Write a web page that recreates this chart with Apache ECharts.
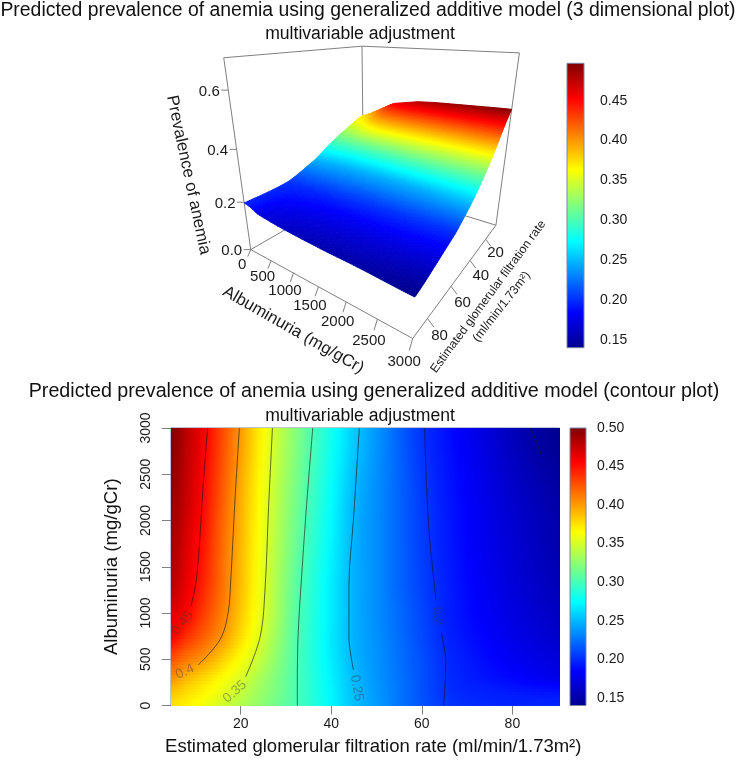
<!DOCTYPE html>
<html><head><meta charset="utf-8">
<style>html,body{margin:0;padding:0;background:#fff}#c{width:750px;height:760px}</style>
<script src="https://cdn.jsdelivr.net/npm/echarts@6/dist/echarts.min.js"></script>
</head><body><div id="c"></div>
<script>
// ---------- data ----------
const egfrValues = [4.6, 8, 12, 16, 20, 24, 28, 32, 36, 40, 45, 50, 55, 60, 65, 70, 75, 80, 85, 90.4];
const acrValues = [0, 150, 300, 500, 750, 1000, 1300, 1700, 2200, 3000];
const prevAcr0    = [.373,.367,.358,.347,.336,.325,.313,.301,.287,.272,.252,.239,.226,.214,.204,.200,.198,.197,.197,.197];
const prevAcr150  = [.385,.376,.366,.355,.343,.329,.316,.302,.286,.271,.251,.238,.226,.213,.202,.197,.195,.193,.191,.190];
const prevAcr300  = [.402,.389,.376,.363,.350,.334,.318,.302,.286,.270,.250,.237,.225,.213,.201,.195,.190,.186,.181,.176];
const prevAcr500  = [.425,.412,.398,.380,.362,.344,.323,.303,.285,.268,.248,.236,.224,.212,.200,.193,.186,.180,.175,.170];
const prevAcr750  = [.453,.437,.418,.399,.375,.352,.328,.304,.285,.267,.247,.235,.223,.210,.198,.190,.183,.176,.170,.164];
const prevAcr1000 = [.465,.453,.430,.407,.382,.357,.332,.306,.286,.268,.247,.234,.222,.209,.197,.188,.180,.173,.166,.160];
const prevAcr1300 = [.478,.460,.438,.412,.386,.359,.333,.308,.287,.268,.247,.234,.220,.207,.196,.187,.178,.170,.163,.156];
const prevAcr1700 = [.485,.465,.443,.414,.388,.361,.336,.312,.290,.271,.247,.234,.220,.206,.195,.185,.176,.168,.160,.152];
const prevAcr2200 = [.490,.472,.448,.419,.391,.364,.339,.316,.294,.274,.249,.234,.220,.205,.194,.184,.174,.165,.157,.149];
const prevAcr3000 = [.497,.477,.454,.426,.398,.370,.344,.322,.300,.280,.256,.237,.219,.202,.191,.180,.169,.158,.148,.140];
const prevalence = [prevAcr0,prevAcr150,prevAcr300,prevAcr500,prevAcr750,prevAcr1000,prevAcr1300,prevAcr1700,prevAcr2200,prevAcr3000];

const contour045  = [[12.7,3000],[11.7,2376],[10.3,1398],[9.0,1072]];
const contour040  = [[19.7,3000],[18.7,2198],[17.8,1362],[17.2,1000],[15.4,710],[10.6,438]];
const contour035  = [[27.0,3000],[26.1,2090],[25.4,1289],[24.3,746],[21.1,311]];
const contour030  = [[35.9,3000],[33.8,1652],[32.5,384],[32.5,0]];
const contour025  = [[46.2,3000],[44.9,2014],[43.9,1289],[43.9,746],[44.9,384]];
const contour020a = [[60.6,3000],[61.4,2014],[63.1,1145]];
const contour020b = [[64.3,785],[65.3,460],[64.8,0]];
const contour015  = [[83.9,3000],[85,2890],[86.5,2690]];
const contourLines = [contour045,contour040,contour035,contour030,contour025,contour020a,contour020b,contour015];
const contourLabelText = ['0.45','0.4','0.35','0.25','0.2'];
const contourLabelAt   = [[7.2,891],[7.7,365],[18.7,148],[45.6,188],[63.5,963]];

const acrTicks3d = [0,500,1000,1500,2000,2500,3000];
const egfrTicks3d = [20,40,60,80];
const zTicks3d = [0,0.2,0.4,0.6];
const egfrTicks = [20,40,60,80];
const colorTicksTop = [0.15,0.20,0.25,0.30,0.35,0.40,0.45];
const colorTicksBottom = [0.15,0.20,0.25,0.30,0.35,0.40,0.45,0.50];
const Z_MIN = 0.14, Z_MAX = 0.497, Z_TOP3D = 0.7, E_MIN = 4.6, E_MAX = 90.4, A_MAX = 3000;

// ---------- camera calibration of the 3D box: [acr, egfr, z] -> screen ----------
const anchorWorld = [[0,90.4,0],[3000,90.4,0],[3000,4.6,0],[0,4.6,0],[0,90.4,.7],[0,4.6,.7],[3000,4.6,.7],
  [500,90.4,0],[1000,90.4,0],[1500,90.4,0],[2000,90.4,0],[2500,90.4,0],
  [3000,20,0],[3000,40,0],[3000,60,0],[3000,80,0],[0,90.4,.2],[0,90.4,.4],[0,90.4,.6]];
const anchorScreen = [[251,250],[412.5,337.5],[496,225],[362.7,184],[223.3,57.3],[362.7,46.7],[519,52.7],
  [271,261],[294.3,273.3],[318.3,286.7],[346,301.7],[377.3,319],
  [486,239.3],[471,260.7],[450.7,287.3],[426.7,318.3],[244.3,202.3],[236.7,149.3],[228,90]];
function norm3(w){return [w[0]/A_MAX,(w[1]-E_MIN)/(E_MAX-E_MIN),w[2]/Z_TOP3D];}
function solveCamera(){
  const n=11, A=[...Array(n)].map(()=>Array(n+1).fill(0));
  function add(row,rhs){for(let i=0;i<n;i++){for(let j=0;j<n;j++)A[i][j]+=row[i]*row[j];A[i][n]+=row[i]*rhs;}}
  anchorWorld.forEach((w,k)=>{const [a,b,c]=norm3(w),X=anchorScreen[k][0]/500,Y=anchorScreen[k][1]/500;
    add([a,b,c,1,0,0,0,0,-X*a,-X*b,-X*c],X);
    add([0,0,0,0,a,b,c,1,-Y*a,-Y*b,-Y*c],Y);});
  for(let i=0;i<n;i++){let m=i;for(let r=i+1;r<n;r++)if(Math.abs(A[r][i])>Math.abs(A[m][i]))m=r;
    [A[i],A[m]]=[A[m],A[i]];
    for(let r=0;r<n;r++){if(r===i)continue;const f=A[r][i]/A[i][i];for(let c=i;c<=n;c++)A[r][c]-=f*A[i][c];}}
  return A.map((r,i)=>r[n]/r[i]);
}
const cam = solveCamera();
function project(acr,egfr,z){
  const [a,b,c]=norm3([acr,egfr,z]);
  const w=cam[8]*a+cam[9]*b+cam[10]*c+1;
  return [500*(cam[0]*a+cam[1]*b+cam[2]*c+cam[3])/w,500*(cam[4]*a+cam[5]*b+cam[6]*c+cam[7])/w];
}

// ---------- colour scale ----------
const jetStops=[[0,[0,0,143]],[.125,[0,0,255]],[.375,[0,255,255]],[.625,[255,255,0]],[.875,[255,0,0]],[1,[128,0,0]]];
function jet(z){
  const t=Math.max(0,Math.min(1,(z-Z_MIN)/(Z_MAX-Z_MIN)));
  for(let i=1;i<jetStops.length;i++){ if(t<=jetStops[i][0]){
    const f=(t-jetStops[i-1][0])/(jetStops[i][0]-jetStops[i-1][0]);
    const c=jetStops[i-1][1].map((v,k)=>Math.round(v+(jetStops[i][1][k]-v)*f));
    return 'rgb('+c.join(',')+')';}}
  return 'rgb(128,0,0)';
}
const FONT='"Liberation Sans", Helvetica, Arial, sans-serif';
const AXC='#808080', TXT='#1a1a1a';
const lerp=(a,b,t)=>a+(b-a)*t;
const cells=[]; for(let c=0;c<egfrValues.length-1;c++)for(let r=0;r<acrValues.length-1;r++)cells.push([c,r]);

// smooth shading between the read grid values, used only while painting
function cr(p0,p1,p2,p3,t){return .5*((2*p1)+(p2-p0)*t+(2*p0-5*p1+4*p2-p3)*t*t+(3*p1-p0-3*p2+p3)*t*t*t);}
function smoothZ(c,u,r,v){
  const nc=egfrValues.length-1,nr=acrValues.length-1;
  const row=k=>{const R=prevalence[Math.max(0,Math.min(nr,k))];
    return cr(R[Math.max(0,c-1)],R[c],R[Math.min(nc,c+1)],R[Math.min(nc,c+2)],u);};
  return cr(row(r-1),row(r),row(r+1),row(r+2),v);
}
function renderHeat(params,api){
  const c=api.value(0),r=api.value(1);
  const p0=api.coord([egfrValues[c],acrValues[r]]),p1=api.coord([egfrValues[c+1],acrValues[r+1]]);
  const x0=Math.round(p0[0]),x1=Math.round(p1[0]),yB=Math.round(p0[1]),yT=Math.round(p1[1]);
  const N=Math.max(1,Math.round((yB-yT)/3)),kids=[];
  for(let i=0;i<N;i++){
    const yA=Math.round(lerp(yB,yT,i/N)),yC=Math.round(lerp(yB,yT,(i+1)/N)),t=(i+.5)/N;
    kids.push({type:'rect',shape:{x:x0,y:yC,width:x1-x0,height:yA-yC},style:{fill:{type:'linear',x:0,y:0,x2:1,y2:0,
      colorStops:[0,.33,.67,1].map(o=>({offset:o,color:jet(smoothZ(c,o,r,t))}))}},silent:true});
  }
  return {type:'group',children:kids};
}
function renderSurface(params,api){
  const c=api.value(0),r=api.value(1),kids=[];
  const SX=6,SY=Math.max(3,Math.ceil((acrValues[r+1]-acrValues[r])/60));
  const at=(u,v)=>{const z=smoothZ(c,u,r,v);
    return {z,p:api.coord(project(lerp(acrValues[r],acrValues[r+1],v),lerp(egfrValues[c],egfrValues[c+1],u),z))};};
  for(let i=0;i<SX;i++)for(let j=0;j<SY;j++){
    const q=[at(i/SX,j/SY),at((i+1)/SX,j/SY),at((i+1)/SX,(j+1)/SY),at(i/SX,(j+1)/SY)];
    const col=jet((q[0].z+q[1].z+q[2].z+q[3].z)/4);
    kids.push({type:'polygon',shape:{points:q.map(o=>o.p)},style:{fill:col,stroke:col,lineWidth:.9},silent:true});
  }
  return {type:'group',children:kids};
}
function seg(api,a,b,w){const p=api.coord(a),q=api.coord(b);
  return {type:'line',shape:{x1:p[0],y1:p[1],x2:q[0],y2:q[1]},style:{stroke:AXC,lineWidth:w||1},silent:true};}
function txt(api,at,s,size){const p=api.coord(at);
  return {type:'text',x:p[0],y:p[1],style:{text:s,fill:TXT,font:size+'px '+FONT,align:'center',verticalAlign:'middle'},silent:true};}
function renderBoxBack(params,api){
  const L0=project(0,E_MAX,0),F0=project(A_MAX,E_MAX,0),R0=project(A_MAX,E_MIN,0),B0=project(0,E_MIN,0);
  const Lt=project(0,E_MAX,Z_TOP3D),Rt=project(A_MAX,E_MIN,Z_TOP3D),Bt=project(0,E_MIN,Z_TOP3D);
  return {type:'group',children:[seg(api,L0,B0),seg(api,B0,R0),seg(api,L0,Lt),seg(api,B0,Bt),seg(api,R0,Rt),seg(api,Lt,Bt),seg(api,Bt,Rt),seg(api,L0,F0),seg(api,F0,R0)]};
}
function renderTicks3d(params,api){
  const k=[];
  acrTicks3d.forEach(v=>{const p=project(v,E_MAX,0),a=v/A_MAX;
    k.push(seg(api,p,[p[0]-3-.4*a,p[1]+7+5*a]));
    k.push(txt(api,[p[0]-8.5,p[1]+15+8*a],String(v),15));});
  egfrTicks3d.forEach(v=>{const p=project(A_MAX,v,0),b=(v-E_MIN)/(E_MAX-E_MIN);
    k.push(seg(api,p,[p[0]+4.7+2*b,p[1]+6.7+2.3*b]));
    k.push(txt(api,[p[0]+9.3+3.3*b,p[1]+12.5+6*b],String(v),15));});
  zTicks3d.forEach(v=>{const p=project(0,E_MAX,v);
    k.push(seg(api,p,[p[0]-7,p[1]]));
    k.push(txt(api,[p[0]-19,p[1]+1.5],v.toFixed(1),15));});
  return {type:'group',children:k};
}
function renderColorbar(params,api){
  const top=api.coord([1,api.value(1)]),bot=api.coord([0,api.value(0)]);
  const stops=jetStops.map(s=>({offset:1-s[0],color:'rgb('+s[1].join(',')+')'})).reverse();
  return {type:'rect',shape:{x:bot[0],y:top[1],width:top[0]-bot[0],height:bot[1]-top[1]},
    style:{fill:{type:'linear',x:0,y:0,x2:0,y2:1,colorStops:stops},stroke:'#7b86a0',lineWidth:1},silent:true};
}
const hiddenAxis=(o)=>Object.assign({type:'value',show:false},o);
const cbAxis=(idx,min,max,ticks,marg)=>({gridIndex:idx,type:'value',min,max,position:'right',scale:true,
  axisLine:{show:false},splitLine:{show:false},
  axisTick:{show:true,length:7,customValues:ticks,lineStyle:{color:AXC}},
  axisLabel:{customValues:ticks,formatter:v=>v.toFixed(2),margin:marg,fontSize:14,color:TXT,fontFamily:FONT}});
const ttl=(text,x,y,size)=>({text,left:x,top:y-size/2-1,textAlign:'center',padding:0,
  textStyle:{fontSize:size,fontWeight:'normal',color:'#111',fontFamily:FONT}});
const gText=(text,x,y,deg,size)=>({type:'text',x,y,rotation:deg*Math.PI/180,silent:true,
  style:{text,fill:TXT,font:size+'px '+FONT,align:'center',verticalAlign:'middle'}});

const option={
  animation:false,backgroundColor:'#fff',
  title:[
    ttl('Predicted prevalence of anemia using generalized additive model (3 dimensional plot)',368,12,19.4),
    ttl('multivariable adjustment',360,35,17.6),
    ttl('Predicted prevalence of anemia using generalized additive model (contour plot)',374,392,19.7),
    ttl('multivariable adjustment',360,417,17.6)
  ],
  grid:[
    {left:0,top:0,width:750,height:760},
    {left:171,top:428,width:388.5,height:277.5,show:true,borderColor:'#7b86a0',borderWidth:1},
    {left:570,top:428,width:16,height:277.5},
    {left:567,top:63.3,width:17,height:284.4}
  ],
  xAxis:[
    hiddenAxis({gridIndex:0,min:0,max:750}),
    {gridIndex:1,type:'value',min:E_MIN,max:E_MAX,splitLine:{show:false},
     axisLine:{show:true,lineStyle:{color:AXC}},
     axisTick:{show:true,length:9,customValues:egfrTicks,lineStyle:{color:AXC}},
     axisLabel:{customValues:egfrTicks,margin:12,fontSize:14,color:TXT,fontFamily:FONT},
     name:'Estimated glomerular filtration rate (ml/min/1.73m²)',nameLocation:'center',nameGap:32,
     nameTextStyle:{fontSize:18.5,color:'#111',fontFamily:FONT,padding:[0,0,0,16]}},
    hiddenAxis({gridIndex:2,min:0,max:1}),
    hiddenAxis({gridIndex:3,min:0,max:1})
  ],
  yAxis:[
    hiddenAxis({gridIndex:0,min:0,max:760,inverse:true}),
    {gridIndex:1,type:'value',min:0,max:A_MAX,interval:500,splitLine:{show:false},
     axisLine:{show:true,lineStyle:{color:AXC}},
     axisTick:{show:true,length:9,lineStyle:{color:AXC}},
     axisLabel:{rotate:90,margin:18,fontSize:14,color:TXT,fontFamily:FONT,align:'center',verticalAlign:'bottom',formatter:v=>String(v)},
     name:'Albuminuria (mg/gCr)',nameLocation:'center',nameGap:50,
     nameTextStyle:{fontSize:18.6,color:'#111',fontFamily:FONT}},
    cbAxis(2,Z_MIN,0.50,colorTicksBottom,11),
    cbAxis(3,Z_MIN,Z_MAX,colorTicksTop,16)
  ],
  graphic:[
    gText('Prevalence of anemia',188.3,175,-78,16.8),
    gText('Albuminuria (mg/gCr)',293.3,330,-29.7,16.8),
    gText('Estimated glomerular filtration rate',488.3,296.7,53.7,12.2),
    gText('(ml/min/1.73m²)',501.7,306.7,52,12.2)
  ],
  series:[
    {type:'custom',name:'box',xAxisIndex:0,yAxisIndex:0,data:[[0]],renderItem:renderBoxBack,z:1,silent:true,clip:false},
    {type:'custom',name:'surface',xAxisIndex:0,yAxisIndex:0,data:cells,renderItem:renderSurface,z:2,silent:true,progressive:0,clip:false,encode:{x:0,y:1}},
    {type:'custom',name:'ticks3d',xAxisIndex:0,yAxisIndex:0,data:[[0]],renderItem:renderTicks3d,z:3,silent:true,clip:false},
    {type:'custom',name:'heat',xAxisIndex:1,yAxisIndex:1,data:cells,renderItem:renderHeat,z:2,silent:true,progressive:0,clip:false,encode:{x:0,y:1}},
    ...contourLines.map(d=>({type:'line',xAxisIndex:1,yAxisIndex:1,data:d,showSymbol:false,smooth:0.35,z:3,silent:true,
      lineStyle:{color:'rgba(25,25,25,0.8)',width:0.8}})),
    {type:'scatter',xAxisIndex:1,yAxisIndex:1,symbolSize:0,z:4,silent:true,
      data:contourLabelAt.map((p,i)=>({value:p,label:{show:true,position:'inside',formatter:contourLabelText[i],
        rotate:[52,25,42,-80,-80][i],fontSize:13.5,color:'rgba(60,60,60,0.55)',fontFamily:FONT}}))},
    {type:'custom',name:'cbBottom',xAxisIndex:2,yAxisIndex:2,data:[[Z_MIN,0.50]],renderItem:renderColorbar,z:2,silent:true,encode:{y:[0,1]}},
    {type:'custom',name:'cbTop',xAxisIndex:3,yAxisIndex:3,data:[[Z_MIN,Z_MAX]],renderItem:renderColorbar,z:2,silent:true,encode:{y:[0,1]}}
  ]
};
const chart=echarts.init(document.getElementById('c'),null,{renderer:'canvas'});
chart.setOption(option);
</script></body></html>
